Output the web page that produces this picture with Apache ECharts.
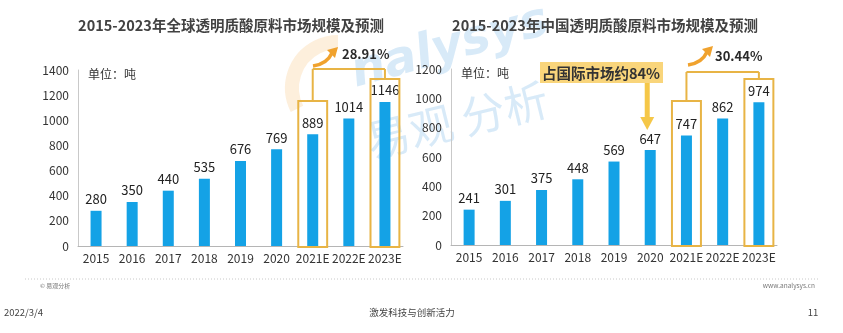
<!DOCTYPE html>
<html>
<head>
<meta charset="utf-8">
<script src="https://cdn.jsdelivr.net/npm/echarts@6/dist/echarts.min.js"></script>
<style>
  html, body { margin: 0; padding: 0; background: #ffffff; }
  #chart { width: 843px; height: 333px; }
</style>
</head>
<body>
<div id="chart"></div>
<script>
// Market size in tonnes, 2015-2023 (E = estimate)
const categories = ['2015', '2016', '2017', '2018', '2019', '2020', '2021E', '2022E', '2023E'];
const globalValues = [280, 350, 440, 535, 676, 769, 889, 1014, 1146];
const chinaValues = [241, 301, 375, 448, 569, 647, 747, 862, 974];
const globalAxisMax = 1400;
const chinaAxisMax = 1200;
const axisStep = 200;
const chartTitles = ['2015-2023年全球透明质酸原料市场规模及预测', '2015-2023年中国透明质酸原料市场规模及预测'];
const growthRates = ['28.91%', '30.44%'];
const unitLabel = '单位：吨';
const shareNote = '占国际市场约84%';
const highlighted = ['2021E', '2023E'];

const FONT = '"Noto Sans CJK SC", "Noto Sans", sans-serif';
const BAR = '#14A2E6';
const GOLD = '#E8B445';

const chart = echarts.init(document.getElementById('chart'), null, { renderer: 'canvas' });

function yAxis(gridIndex, max) {
  return {
    type: 'value', gridIndex, min: 0, max, interval: axisStep,
    axisLine: { show: true, lineStyle: { color: '#c9c9c9', width: 1 } },
    axisTick: { show: false },
    splitLine: { show: false },
    axisLabel: { color: '#333', fontSize: 12, fontFamily: FONT, margin: 9, formatter: v => String(v) }
  };
}
function xAxis(gridIndex) {
  return {
    type: 'category', gridIndex, data: categories,
    axisLine: { lineStyle: { color: '#b5b5b5', width: 1 } },
    axisTick: { show: false },
    axisLabel: { color: '#333', fontSize: 12, fontFamily: FONT, margin: 6, interval: 0 }
  };
}
function barSeries(idx, values) {
  return {
    type: 'bar', xAxisIndex: idx, yAxisIndex: idx, data: values,
    barWidth: 11, itemStyle: { color: BAR }, z: 3,
    label: { show: true, position: 'top', distance: 5, color: '#222', fontSize: 13, fontFamily: FONT }
  };
}

chart.setOption({
  animation: false,
  backgroundColor: '#ffffff',
  title: [
    { text: chartTitles[0], left: 226, top: 13, textAlign: 'center',
      textStyle: { color: '#424242', fontSize: 14.5, fontWeight: 'bold', fontFamily: FONT } },
    { text: chartTitles[1], left: 600, top: 13, textAlign: 'center',
      textStyle: { color: '#424242', fontSize: 14.5, fontWeight: 'bold', fontFamily: FONT } }
  ],
  grid: [
    { left: 78, top: 70, width: 325, height: 176 },
    { left: 451, top: 69, width: 326, height: 176 }
  ],
  xAxis: [xAxis(0), xAxis(1)],
  yAxis: [yAxis(0, globalAxisMax), yAxis(1, chinaAxisMax)],
  series: [barSeries(0, globalValues), barSeries(1, chinaValues)]
});

// Overlay: highlight boxes, growth connectors, notes, watermark and footer
function pt(grid, cat, val) { return chart.convertToPixel({ gridIndex: grid }, [cat, val]); }

const g = [];

// faint brand watermark behind everything
g.push({ type: 'arc', z: -10, silent: true,
  shape: { cx: 338, cy: 88, r: 46, startAngle: Math.PI * 0.85, endAngle: Math.PI * 1.5 },
  style: { stroke: 'rgba(247,175,80,0.2)', lineWidth: 14, fill: null } });
g.push({ type: 'text', z: -10, silent: true, rotation: 0.27, x: 450, y: 48,
  style: { text: 'nalysys', font: 'italic bold 48px "DejaVu Sans", sans-serif',
    fill: 'rgba(60,150,220,0.2)', align: 'center', verticalAlign: 'middle' } });
g.push({ type: 'text', z: -10, silent: true, rotation: 0.24, x: 457, y: 120,
  style: { text: '易观 分析', font: '44px "Noto Sans CJK SC", sans-serif',
    fill: 'rgba(60,150,220,0.2)', align: 'center', verticalAlign: 'middle' } });

// per-chart overlay geometry (pixel heights for box tops and connector line)
const overlays = [
  { grid: 0, tops: [101, 79], link: 69, rate: growthRates[0], arrowStart: [313, 66], textX: 342, textY: 54 },
  { grid: 1, tops: [101, 79], link: 72, rate: growthRates[1], arrowStart: [688, 65], textX: 715, textY: 56 }
];

overlays.forEach(o => {
  const a = pt(o.grid, categories[0], 0);
  const b = pt(o.grid, categories[1], 0);
  const band = b[0] - a[0];
  const half = band * 0.4;
  const xs = [];
  highlighted.forEach((cat, i) => {
    const p = pt(o.grid, cat, 0);
    xs.push(p[0]);
    g.push({ type: 'rect', z: 5, silent: true,
      shape: { x: p[0] - half, y: o.tops[i], width: half * 2, height: p[1] + 1 - o.tops[i] },
      style: { fill: null, stroke: GOLD, lineWidth: 2 } });
    g.push({ type: 'line', z: 5, silent: true,
      shape: { x1: p[0], y1: o.link, x2: p[0], y2: o.tops[i] },
      style: { stroke: GOLD, lineWidth: 2 } });
  });
  g.push({ type: 'line', z: 5, silent: true,
    shape: { x1: xs[0], y1: o.link, x2: xs[1], y2: o.link },
    style: { stroke: GOLD, lineWidth: 2 } });

  // curved growth arrow
  const [sx, sy] = o.arrowStart;
  const ex = sx + 19, ey = sy - 13;
  g.push({ type: 'bezierCurve', z: 6, silent: true,
    shape: { x1: sx, y1: sy, x2: ex, y2: ey, cpx1: sx + 14, cpy1: sy - 2 },
    style: { stroke: '#F0A22E', lineWidth: 3.5, fill: null } });
  g.push({ type: 'polygon', z: 6, silent: true,
    shape: { points: [[ex + 6, ey - 6], [ex - 5, ey - 3], [ex + 3, ey + 5]] },
    style: { fill: '#F0A22E' } });
  g.push({ type: 'text', z: 6, silent: true, x: o.textX, y: o.textY,
    style: { text: o.rate, font: 'bold 13px ' + FONT, fill: '#2a2a2a', align: 'left', verticalAlign: 'middle' } });

  // unit label
  const topLeft = chart.convertToPixel({ gridIndex: o.grid }, [categories[0], o.grid === 0 ? globalAxisMax : chinaAxisMax]);
  g.push({ type: 'text', z: 6, silent: true, x: a[0] - band / 2 + 10, y: topLeft[1] + 4,
    style: { text: unitLabel, font: '12px ' + FONT, fill: '#333', align: 'left', verticalAlign: 'middle' } });
});

// China share callout with downward arrow to 2020
const c2020 = pt(1, '2020', 0);
const noteX = c2020[0] - 3;
g.push({ type: 'rect', z: 6, silent: true,
  shape: { x: 540, y: 62, width: 123, height: 21 },
  style: { fill: '#F9D57B' } });
g.push({ type: 'text', z: 7, silent: true, x: 601, y: 73,
  style: { text: shareNote, font: 'bold 14.5px ' + FONT, fill: '#333', align: 'center', verticalAlign: 'middle' } });
g.push({ type: 'rect', z: 6, silent: true,
  shape: { x: noteX - 2.5, y: 83, width: 5, height: 35 },
  style: { fill: '#F5C748' } });
g.push({ type: 'polygon', z: 6, silent: true,
  shape: { points: [[noteX - 7, 117], [noteX + 7, 117], [noteX, 130]] },
  style: { fill: '#F5C748' } });

// footer
g.push({ type: 'line', silent: true, shape: { x1: 25, y1: 279, x2: 820, y2: 279 },
  style: { stroke: '#c8c8c8', lineWidth: 1, lineDash: [1, 2] } });
g.push({ type: 'text', silent: true, x: 40, y: 286,
  style: { text: '© 易观分析', font: '6px ' + FONT, fill: '#777', align: 'left', verticalAlign: 'middle' } });
g.push({ type: 'text', silent: true, x: 815, y: 286,
  style: { text: 'www.analysys.cn', font: '6.5px ' + FONT, fill: '#777', align: 'right', verticalAlign: 'middle' } });
g.push({ type: 'text', silent: true, x: 4, y: 312,
  style: { text: '2022/3/4', font: '9.5px ' + FONT, fill: '#444', align: 'left', verticalAlign: 'middle' } });
g.push({ type: 'text', silent: true, x: 412, y: 312,
  style: { text: '激发科技与创新活力', font: '9.5px ' + FONT, fill: '#444', align: 'center', verticalAlign: 'middle' } });
g.push({ type: 'text', silent: true, x: 813, y: 312,
  style: { text: '11', font: '9.5px ' + FONT, fill: '#444', align: 'center', verticalAlign: 'middle' } });

chart.setOption({ graphic: { elements: g } });
</script>
</body>
</html>
